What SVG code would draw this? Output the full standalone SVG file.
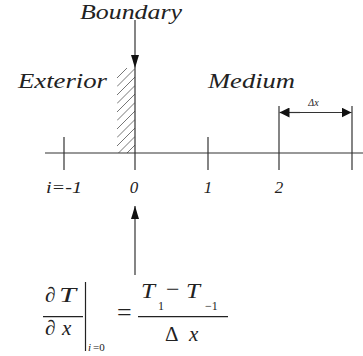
<svg xmlns="http://www.w3.org/2000/svg" width="363" height="356" viewBox="0 0 363 356">
<style>
.ln{stroke:#333;stroke-width:1.2;fill:none}
.ht{stroke:#666;stroke-width:0.9}
</style>
<defs>
<marker id="ah" viewBox="0 0 10 10" refX="10" refY="5" markerWidth="10" markerHeight="10" markerUnits="userSpaceOnUse" orient="auto">
<path d="M0,0 L10,5 L0,10 Z" fill="#111"/>
</marker>
<marker id="ab" viewBox="0 0 13 8" refX="13" refY="4" markerWidth="13" markerHeight="8" markerUnits="userSpaceOnUse" orient="auto">
<path d="M0,0 L13,4 L0,8 Z" fill="#111"/>
</marker>
<clipPath id="hc"><rect x="117" y="68" width="18" height="85"/></clipPath>
</defs>
<g id="hatch" clip-path="url(#hc)">
<line class="ht" x1="117" y1="78" x2="135" y2="60"/>
<line class="ht" x1="117" y1="86.5" x2="135" y2="68.5"/>
<line class="ht" x1="117" y1="95" x2="135" y2="77"/>
<line class="ht" x1="117" y1="103.5" x2="135" y2="85.5"/>
<line class="ht" x1="117" y1="112" x2="135" y2="94"/>
<line class="ht" x1="117" y1="120.5" x2="135" y2="102.5"/>
<line class="ht" x1="117" y1="129" x2="135" y2="111"/>
<line class="ht" x1="117" y1="137.5" x2="135" y2="119.5"/>
<line class="ht" x1="117" y1="146" x2="135" y2="128"/>
<line class="ht" x1="117" y1="154.5" x2="135" y2="136.5"/>
<line class="ht" x1="117" y1="163" x2="135" y2="145"/>
</g>
<g id="axis">
<line class="ln" x1="45" y1="153" x2="363" y2="153"/>
<line class="ln" x1="64" y1="137" x2="64" y2="170"/>
<line class="ln" x1="208" y1="137" x2="208" y2="170"/>
<line class="ln" x1="279" y1="106" x2="279" y2="170"/>
<line class="ln" x1="352" y1="106" x2="352" y2="170"/>
<line class="ln" x1="135" y1="68" x2="135" y2="170"/>
</g>
<g id="connectors">
<line class="ln" x1="135" y1="20" x2="135" y2="68" marker-end="url(#ab)"/>
<line class="ln" x1="135" y1="275" x2="135" y2="206" marker-end="url(#ab)"/>
<line class="ln" x1="300" y1="112.5" x2="279.5" y2="112.5" marker-end="url(#ah)"/>
<line class="ln" x1="300" y1="112.5" x2="351.5" y2="112.5" marker-end="url(#ah)"/>
</g>
<text id="boundary" font-family="Liberation Serif" font-style="italic" fill="#222" x="131" y="19" font-size="21" text-anchor="middle" textLength="102" lengthAdjust="spacingAndGlyphs">Boundary</text>
<text id="exterior" font-family="Liberation Serif" font-style="italic" fill="#222" x="18" y="88" font-size="22" textLength="89" lengthAdjust="spacingAndGlyphs">Exterior</text>
<text id="medium" font-family="Liberation Serif" font-style="italic" fill="#222" x="208" y="88" font-size="22" textLength="87" lengthAdjust="spacingAndGlyphs">Medium</text>
<text id="dx" font-family="Liberation Serif" font-style="italic" fill="#222" x="313.5" y="106" font-size="10" text-anchor="middle">Δx</text>
<text id="idx-m1" font-family="Liberation Serif" font-style="italic" fill="#222" x="46" y="193" font-size="17" textLength="36" lengthAdjust="spacingAndGlyphs">i=-1</text>
<text id="idx-0" font-family="Liberation Serif" font-style="italic" fill="#222" x="134" y="193" font-size="17" text-anchor="middle">0</text>
<text id="idx-1" font-family="Liberation Serif" font-style="italic" fill="#222" x="208" y="193" font-size="17" text-anchor="middle">1</text>
<text id="idx-2" font-family="Liberation Serif" font-style="italic" fill="#222" x="279" y="193" font-size="17" text-anchor="middle">2</text>
<text font-family="Liberation Serif" fill="#222" x="45" y="302" font-size="21">∂</text>
<text font-family="Liberation Serif" font-style="italic" fill="#222" x="59" y="302" font-size="21" textLength="17" lengthAdjust="spacingAndGlyphs">T</text>
<line x1="43" y1="316.7" x2="83" y2="316.7" stroke="#222" stroke-width="1.2"/>
<text font-family="Liberation Serif" fill="#222" x="45" y="335" font-size="21">∂</text>
<text font-family="Liberation Serif" font-style="italic" fill="#222" x="62" y="335" font-size="21">x</text>
<line x1="85.5" y1="282" x2="85.5" y2="351" stroke="#222" stroke-width="1.2"/>
<text font-family="Liberation Serif" font-style="italic" fill="#222" x="88" y="351" font-size="11">i</text>
<text font-family="Liberation Serif" fill="#222" x="93" y="351" font-size="11">=0</text>
<text font-family="Liberation Serif" fill="#222" x="117" y="321" font-size="26">=</text>
<text font-family="Liberation Serif" font-style="italic" fill="#222" x="141" y="298" font-size="21" textLength="14" lengthAdjust="spacingAndGlyphs">T</text>
<text font-family="Liberation Serif" fill="#222" x="158" y="310" font-size="12">1</text>
<text font-family="Liberation Serif" fill="#222" x="166" y="297" font-size="24">−</text>
<text font-family="Liberation Serif" font-style="italic" fill="#222" x="186" y="298" font-size="21" textLength="14" lengthAdjust="spacingAndGlyphs">T</text>
<text font-family="Liberation Serif" fill="#222" x="205" y="310" font-size="12">−1</text>
<line x1="138" y1="316.7" x2="228" y2="316.7" stroke="#222" stroke-width="1.2"/>
<text font-family="Liberation Serif" fill="#222" x="165" y="341" font-size="21">Δ</text>
<text font-family="Liberation Serif" font-style="italic" fill="#222" x="189" y="341" font-size="21">x</text>
</svg>
